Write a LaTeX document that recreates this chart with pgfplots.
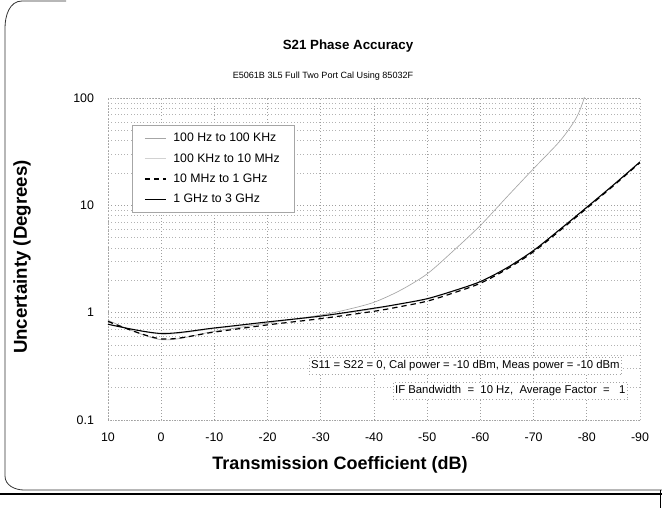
\documentclass[border=0pt]{standalone}
\usepackage{fontspec}
\setmainfont{Liberation Sans}
\usepackage{pgfplots}
\pgfplotsset{compat=1.18}
\begin{document}
\begin{tikzpicture}
\useasboundingbox (0,0) rectangle (496.5pt,381pt);
% frame
\begin{scope}[x=0.75pt,y=-0.75pt,yshift=381pt]
\draw[line width=0.6pt, black!80] (66,1) -- (22,1) to[out=180,in=90] (5,28) -- (5,476) to[out=-90,in=180] (24,490) -- (662,490);
\draw[line width=1.4pt, black] (0,494) -- (662,494);
\draw[line width=0.6pt, black] (660,490) -- (660,508);
\end{scope}
\begin{axis}[
  at={(81pt,66pt)}, anchor=south west,
  scale only axis, width=399pt, height=241.5pt,
  x dir=reverse, xmin=-90, xmax=10,
  ymode=log, ymin=0.1, ymax=100,
  xtick={10,0,-10,-20,-30,-40,-50,-60,-70,-80,-90},
  ytick={0.1,1,10,100}, yticklabels={0.1,1,10,100},
  /pgf/number format/assume math mode=true,
  tick label style={font=\fontsize{9.3}{10}\selectfont},
  xticklabel style={yshift=-6pt},
  yticklabel style={xshift=-7pt},
  tick style={draw=none},
  axis line style={draw=gray!60, line width=0.4pt, dotted},
  grid=both,
  major grid style={gray!75, dotted, line width=0.55pt},
  minor grid style={gray!60, dotted, line width=0.45pt},
  clip=true,
  legend style={at={(0.045,0.916)}, anchor=north west, draw=gray!70,
    fill=white, font=\fontsize{9.2}{10}\selectfont, row sep=3.2pt, column sep=3pt,
    inner xsep=9pt, inner ysep=4pt},
  legend image code/.code={\draw[#1] (0pt,0pt) -- (16pt,0pt);},
  legend cell align=left,
]
% 100 Hz to 100 kHz (steep)
\addplot[gray!70, line width=0.5pt, smooth, solid] coordinates {
(10,0.85) (0,0.56) (-10,0.67) (-20,0.80) (-30,0.95) (-35,1.07) (-40,1.25) (-45,1.62) (-50,2.3)
(-55,3.8) (-60,6.5) (-65,12) (-70,22) (-75,40) (-78,65) (-79.5,100) (-80,140)};
\addlegendentry{100 Hz to 100 KHz}
% 100 kHz to 10 MHz
\addplot[gray!35, line width=0.5pt, smooth, solid] coordinates {
(10,0.79) (0,0.63) (-10,0.71) (-20,0.81) (-30,0.92) (-40,1.08) (-45,1.20) (-50,1.33) (-55,1.58)
(-60,1.93) (-65,2.6) (-70,3.75) (-75,5.9) (-80,9.5) (-85,15.3) (-90,25)};
\addlegendentry{100 KHz to 10 MHz}
% 10 MHz to 1 GHz
\addplot[black, line width=0.9pt, smooth, dash pattern=on 4pt off 3pt] coordinates {
(10,0.83) (0,0.57) (-10,0.66) (-20,0.77) (-30,0.88) (-40,1.03) (-45,1.14) (-50,1.28) (-55,1.53)
(-60,1.88) (-65,2.55) (-70,3.7) (-75,5.85) (-80,9.4) (-85,15.2) (-90,25)};
\addlegendentry{10 MHz to 1 GHz}
% 1 GHz to 3 GHz
\addplot[black, line width=0.8pt, smooth, solid] coordinates {
(10,0.78) (0,0.64) (-10,0.72) (-20,0.82) (-30,0.93) (-40,1.10) (-45,1.21) (-50,1.35) (-55,1.60)
(-60,1.95) (-65,2.62) (-70,3.8) (-75,6.0) (-80,9.6) (-85,15.5) (-90,25.4)};
\addlegendentry{1 GHz to 3 GHz}
\node[draw=gray!70, dotted, fill=white, anchor=east, inner sep=1.5pt, font=\fontsize{8.5}{10}\selectfont]
  at (rel axis cs:0.966,0.168) {\strut S11 = S22 = 0, Cal power = -10 dBm, Meas power = -10 dBm};
\node[draw=gray!70, dotted, fill=white, anchor=east, inner sep=1.5pt, font=\fontsize{8.5}{10}\selectfont]
  at (rel axis cs:0.977,0.090) {\strut IF Bandwidth\ \ =\ \ 10 Hz,\ \ Average Factor\ \ =\ \ \ 1};
\end{axis}
\node[font=\bfseries\fontsize{10}{12}\selectfont] at (261pt,346.5pt) {S21 Phase Accuracy};
\node[font=\fontsize{6.8}{8}\selectfont] at (242.25pt,324pt) {E5061B 3L5 Full Two Port Cal Using 85032F};
\node[font=\bfseries\fontsize{13.5}{15}\selectfont] at (255pt,32.25pt) {Transmission Coefficient (dB)};
\node[font=\bfseries\fontsize{14}{16}\selectfont, rotate=90] at (16.5pt,188.25pt) {Uncertainty (Degrees)};
\end{tikzpicture}
\end{document}
